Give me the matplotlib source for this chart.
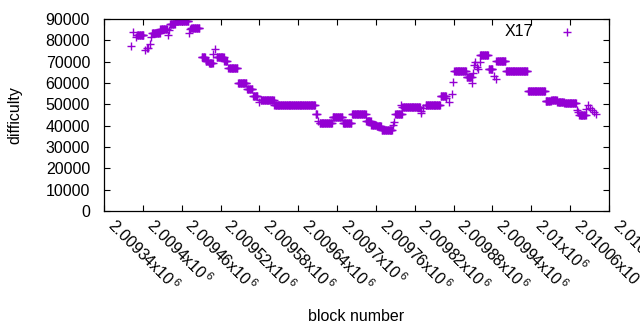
import numpy as np
import matplotlib
matplotlib.use("Agg")
import matplotlib.pyplot as plt

plt.rcParams['font.family'] = ['Liberation Sans', 'DejaVu Sans']
plt.rcParams['mathtext.fontset'] = 'custom'
plt.rcParams['mathtext.rm'] = 'Liberation Sans'
plt.rcParams['mathtext.it'] = 'Liberation Sans'

# Runs of consecutive blocks sharing one difficulty (start block, end block, difficulty)
run_start = [2009381, 2009385, 2009389, 2009391, 2009404, 2009407, 2009411, 2009413,
             2009414, 2009427, 2009439, 2009440, 2009442, 2009450, 2009471, 2009473,
             2009475, 2009491, 2009497, 2009502, 2009509, 2009511, 2009514, 2009526,
             2009532, 2009547, 2009561, 2009570, 2009580, 2009582, 2009603, 2009667,
             2009670, 2009673, 2009693, 2009709, 2009723, 2009745, 2009753, 2009761,
             2009769, 2009786, 2009788, 2009790, 2009799, 2009801, 2009829, 2009830,
             2009833, 2009837, 2009860, 2009869, 2009873, 2009877, 2009879, 2009881,
             2009900, 2009909, 2009910, 2009911, 2009913, 2009916, 2009918, 2009920,
             2009921, 2009934, 2009942, 2009945, 2009946, 2009961, 2009995, 2010022,
             2010031, 2010040, 2010051, 2010070, 2010072, 2010074, 2010085, 2010088,
             2010091, 2010093, 2010097, 2010100]
run_end = [2009381, 2009385, 2009389, 2009401, 2009404, 2009408, 2009411, 2009413,
           2009426, 2009437, 2009439, 2009440, 2009449, 2009470, 2009471, 2009473,
           2009487, 2009496, 2009501, 2009508, 2009509, 2009511, 2009525, 2009530,
           2009546, 2009560, 2009569, 2009577, 2009580, 2009602, 2009666, 2009669,
           2009670, 2009692, 2009708, 2009722, 2009744, 2009752, 2009760, 2009768,
           2009785, 2009786, 2009788, 2009800, 2009799, 2009828, 2009829, 2009830,
           2009833, 2009859, 2009868, 2009869, 2009873, 2009877, 2009879, 2009899,
           2009908, 2009909, 2009910, 2009911, 2009913, 2009916, 2009918, 2009920,
           2009933, 2009940, 2009942, 2009945, 2009960, 2009994, 2010021, 2010030,
           2010039, 2010050, 2010069, 2010070, 2010072, 2010084, 2010085, 2010088,
           2010091, 2010093, 2010097, 2010100]
run_value = [77200, 84000, 81400, 82300, 75500, 76200, 78100, 81700,
             83300, 85200, 82500, 84800, 87700, 89000, 83600, 85200,
             85600, 72300, 70300, 69400, 73600, 75800, 72300, 70500,
             66900, 59900, 57000, 53800, 51200, 51900, 49500, 45300,
             42300, 41400, 43900, 41400, 45300, 42000, 40500, 39700,
             37800, 40300, 41900, 45300, 49700, 48900, 46100, 47000,
             48100, 49500, 53900, 52800, 51200, 54800, 60600, 65400,
             62800, 60200, 64500, 68400, 70000, 67700, 66400, 70000,
             73000, 66400, 63300, 61700, 70500, 65800, 56400, 51700,
             52200, 51200, 50500, 47300, 46500, 44800, 47700, 49700,
             48100, 47300, 46500, 45300]

xtick_values = [2009340, 2009400, 2009460, 2009520, 2009580, 2009640, 2009700,
                2009760, 2009820, 2009880, 2009940, 2010000, 2010060, 2010120]
xtick_labels = ['2.00934', '2.0094', '2.00946', '2.00952', '2.00958', '2.00964', '2.0097',
                '2.00976', '2.00982', '2.00988', '2.00994', '2.01', '2.01006', '2.01012']
ytick_values = [0, 10000, 20000, 30000, 40000, 50000, 60000, 70000, 80000, 90000]

blocks = []
diffs = []
for s, e, v in zip(run_start, run_end, run_value):
    b = np.arange(s, e + 1)
    blocks.append(b)
    diffs.append(np.full(len(b), v))
blocks = np.concatenate(blocks)
diffs = np.concatenate(diffs)

FS = 11.5
color = '#9400D3'
fig = plt.figure(figsize=(6.4, 3.3), dpi=100)
ax = fig.add_axes([104/640, 1 - 211/330, (609-104)/640, (211-19)/330])
ax.plot(blocks, diffs, linestyle='none', marker='+', ms=5.5, mew=1.0, color=color)

ax.set_xlim(xtick_values[0], xtick_values[-1])
ax.set_ylim(0, 90000)
ax.set_xticks(xtick_values)
ax.set_xticklabels([t + r'x10$^{\,6}$' for t in xtick_labels], rotation=-45,
                   ha='left', va='bottom', rotation_mode='anchor', fontsize=FS)
ax.set_yticks(ytick_values)
ax.set_yticklabels([str(v) for v in ytick_values], fontsize=FS)
ax.tick_params(direction='in', top=True, right=True, length=4, width=0.8, color='black')
ax.tick_params(axis='y', pad=10)
ax.tick_params(axis='x', pad=13)
for sp in ax.spines.values():
    sp.set_linewidth(0.9)

ax.set_xlabel('block number', fontsize=FS)
ax.set_ylabel('difficulty', fontsize=FS)
ax.xaxis.set_label_coords(0.5, -0.51)
ax.yaxis.set_label_coords(-0.162, 0.5)

# legend
fig.text(533/640, 1 - 32/330, 'X17', ha='right', va='center', fontsize=FS)
ax.plot([(567-104)/505], [(211-32)/192], transform=ax.transAxes, marker='+',
        ms=5.5, mew=1.0, color=color, linestyle='none', clip_on=False)

fig.savefig('out.png', dpi=100)
